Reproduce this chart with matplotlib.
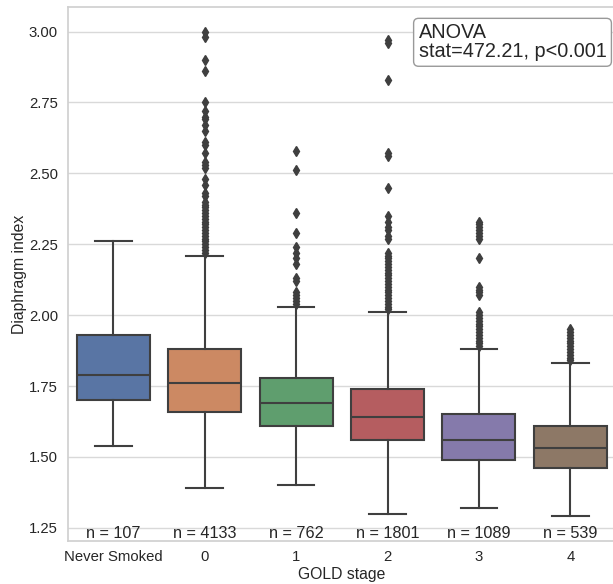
"""Diaphragm index by GOLD stage: boxplots with sample sizes and ANOVA note."""
import colorsys

import matplotlib
matplotlib.use("Agg")
import matplotlib.pyplot as plt
import matplotlib.colors as mcolors

# --- data ------------------------------------------------------------------
stages = ["Never Smoked", "0", "1", "2", "3", "4"]
counts = [107, 4133, 762, 1801, 1089, 539]

whisker_lo = [1.54, 1.39, 1.40, 1.30, 1.32, 1.29]
q1 = [1.70, 1.66, 1.61, 1.56, 1.49, 1.46]
median = [1.79, 1.76, 1.69, 1.64, 1.56, 1.53]
q3 = [1.93, 1.88, 1.78, 1.74, 1.65, 1.61]
whisker_hi = [2.26, 2.21, 2.03, 2.01, 1.88, 1.83]

fliers_never = []
fliers_0 = [3.00, 2.98, 2.90, 2.86, 2.75, 2.72, 2.70, 2.69, 2.67, 2.65,
            2.61, 2.60, 2.57, 2.54, 2.53, 2.52, 2.48, 2.46, 2.43, 2.42,
            2.40, 2.39, 2.38, 2.37, 2.36, 2.35, 2.34, 2.33, 2.32, 2.31,
            2.30, 2.29, 2.28, 2.27, 2.26, 2.25, 2.24, 2.23, 2.22]
fliers_1 = [2.58, 2.51, 2.36, 2.29, 2.24, 2.22, 2.20, 2.18, 2.13, 2.12,
            2.08, 2.07, 2.06, 2.05, 2.04]
fliers_2 = [2.97, 2.96, 2.83, 2.57, 2.56, 2.45, 2.35, 2.33, 2.31, 2.30,
            2.28, 2.27, 2.22, 2.21, 2.20, 2.19, 2.18, 2.17, 2.16, 2.15,
            2.14, 2.13, 2.12, 2.11, 2.10, 2.09, 2.08, 2.07, 2.06, 2.05,
            2.04, 2.03, 2.02]
fliers_3 = [2.33, 2.32, 2.31, 2.30, 2.29, 2.28, 2.27, 2.20, 2.10, 2.09,
            2.08, 2.07, 2.01, 2.00, 1.99, 1.98, 1.97, 1.96, 1.95, 1.94,
            1.93, 1.92, 1.91, 1.90, 1.89]
fliers_4 = [1.95, 1.94, 1.93, 1.92, 1.91, 1.90, 1.89, 1.88, 1.87, 1.86,
            1.85, 1.84]
fliers = [fliers_never, fliers_0, fliers_1, fliers_2, fliers_3, fliers_4]

anova_text = "ANOVA\nstat=472.21, p<0.001"
xlabel = "GOLD stage"
ylabel = "Diaphragm index"
yticks = [1.25, 1.50, 1.75, 2.00, 2.25, 2.50, 2.75, 3.00]

# --- styling ----------------------------------------------------------------
deep = ["#4C72B0", "#DD8452", "#55A868", "#C44E52", "#8172B3", "#937860"]


def desaturate(c, prop=0.75):
    h, l, s = colorsys.rgb_to_hls(*mcolors.to_rgb(c))
    return colorsys.hls_to_rgb(h, l, s * prop)


box_colors = [desaturate(c) for c in deep]
line_gray = "#3f3f3f"
text_color = "#262626"
plt.rcParams["font.family"] = ["Liberation Sans", "DejaVu Sans"]

fig = plt.figure(figsize=(6.13, 5.84), dpi=100)
ax = fig.add_axes([67.6 / 613, 1 - 540.7 / 584, (616 - 67.6) / 613, (540.7 - 7.3) / 584])

stats = []
for i, name in enumerate(stages):
    stats.append(dict(label=name, whislo=whisker_lo[i], q1=q1[i], med=median[i],
                      q3=q3[i], whishi=whisker_hi[i], fliers=fliers[i]))

positions = list(range(len(stages)))
art = ax.bxp(
    stats, positions=positions, widths=0.8, patch_artist=True,
    boxprops=dict(edgecolor=line_gray, linewidth=1.5),
    medianprops=dict(color=line_gray, linewidth=1.5),
    whiskerprops=dict(color=line_gray, linewidth=1.5),
    capprops=dict(color=line_gray, linewidth=1.5),
    flierprops=dict(marker="d", markersize=5, markerfacecolor=line_gray,
                    markeredgecolor=line_gray, linestyle="none"),
)
for patch, col in zip(art["boxes"], box_colors):
    patch.set_facecolor(col)

all_vals = whisker_lo + whisker_hi + [v for f in fliers for v in f]
lo, hi = min(all_vals), max(all_vals)
pad = 0.05 * (hi - lo)
ax.set_ylim(lo - pad, hi + pad)
ax.set_xlim(-0.5, len(stages) - 0.5)

for x, n in zip(positions, counts):
    ax.text(x, 1.215, f"n = {n}", ha="center", va="baseline",
            fontsize=11.7, color=text_color)

ax.text(0.64, 0.97, anova_text, transform=ax.transAxes, ha="left", va="top",
        fontsize=14.3, color=text_color, linespacing=1.0,
        bbox=dict(boxstyle="round,pad=0.25", facecolor="white", edgecolor="#999999", linewidth=1))

ax.set_yticks(yticks)
ax.set_yticklabels([f"{t:.2f}" for t in yticks])
ax.set_xticks(positions)
ax.set_xticklabels(stages)
ax.tick_params(axis="both", length=0, labelsize=10.7, labelcolor=text_color, pad=7)
ax.set_xlabel(xlabel, fontsize=11.3, color=text_color, labelpad=2)
ax.set_ylabel(ylabel, fontsize=11.3, color=text_color, labelpad=1.5)

ax.set_facecolor("white")
ax.yaxis.grid(True, color="#d9d9d9", linewidth=1)
ax.xaxis.grid(False)
ax.set_axisbelow(True)
for sp in ax.spines.values():
    sp.set_color("#d0d0d0")
    sp.set_linewidth(1.25)

fig.savefig("out.png", dpi=100)
